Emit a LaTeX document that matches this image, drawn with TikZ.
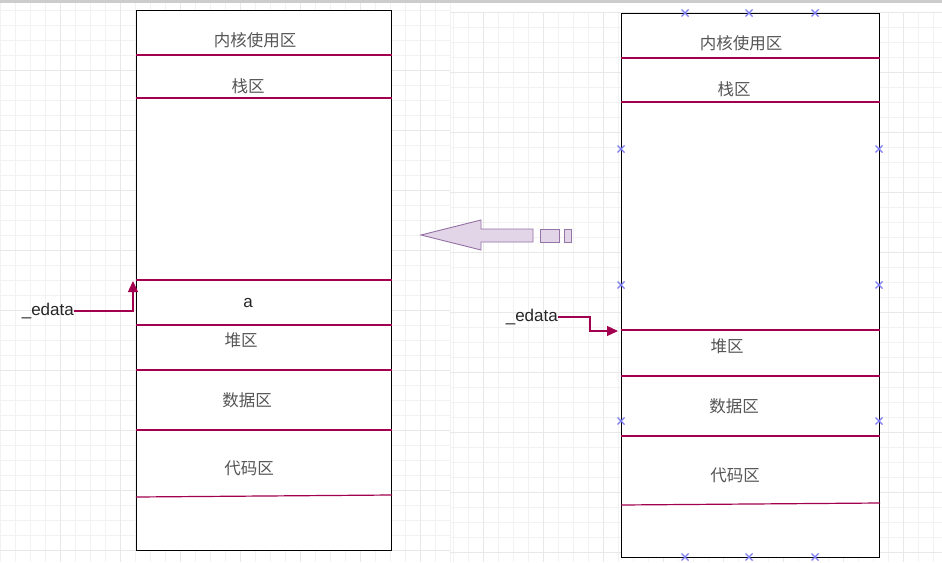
\documentclass[tikz,border=0pt]{standalone}
\usepackage{fontspec}
\setmainfont{Liberation Sans}
\newfontfamily\cjk{Noto Sans CJK SC}
\usetikzlibrary{arrows.meta}
\definecolor{divc}{HTML}{A2004F}
\definecolor{txtc}{HTML}{555555}
\definecolor{gridc}{HTML}{F2F2F2}
\definecolor{gridm}{HTML}{E8E8E8}
\definecolor{xmark}{HTML}{7B7BF5}
\definecolor{arrfill}{HTML}{E1D5E7}
\definecolor{arrdraw}{HTML}{9673A6}
\tikzset{
  membox/.style={draw=black, line width=1.1pt, fill=white, inner sep=0pt},
  divider/.style={draw=divc, line width=1.2pt},
  zlabel/.style={font=\cjk\fontsize{16.5}{18}\selectfont, text=txtc, inner sep=0pt},
  elabel/.style={font=\fontsize{17}{19}\selectfont, text=black!85, inner sep=0pt},
  econn/.style={draw=divc, line width=1.3pt, -{Triangle[length=11pt,width=10pt]}},
  xm/.style={draw=xmark, line width=1.3pt},
  bigarrow/.style={draw=arrdraw, fill=arrfill, line width=0.9pt}
}
\begin{document}
\begin{tikzpicture}[x=1pt,y=-1pt]
\useasboundingbox (0,0) rectangle (942,562);
\fill[white] (0,0) rectangle (942,562);
% grid backgrounds
\foreach \gx in {0,15,...,450} {\draw[gridc, line width=0.5pt] (\gx,0) -- (\gx,562);}
\foreach \gy in {10,25,...,562} {\draw[gridc, line width=0.5pt] (0,\gy) -- (450,\gy);}
\foreach \gx in {60,120,...,450} {\draw[gridm, line width=0.6pt] (\gx,0) -- (\gx,562);}
\foreach \gy in {70,130,...,562} {\draw[gridm, line width=0.6pt] (0,\gy) -- (450,\gy);}
\foreach \gx in {453,468,...,942} {\draw[gridc, line width=0.5pt] (\gx,12) -- (\gx,562);}
\foreach \gy in {12,27,...,562} {\draw[gridc, line width=0.5pt] (450,\gy) -- (942,\gy);}
\foreach \gx in {483,543,...,942} {\draw[gridm, line width=0.6pt] (\gx,12) -- (\gx,562);}
\foreach \gy in {12,72,...,562} {\draw[gridm, line width=0.6pt] (450,\gy) -- (942,\gy);}
\fill[black!20] (0,0) rectangle (942,3);

% left box
\node[membox, minimum width=255pt, minimum height=540pt, anchor=north west] (L) at (136,10) {};
\draw[divider] (L.west |- 0,55) -- (L.east |- 0,55);
\draw[divider] (L.west |- 0,98) -- (L.east |- 0,98);
\draw[divider] (L.west |- 0,280) -- (L.east |- 0,280);
\draw[divider] (L.west |- 0,325) -- (L.east |- 0,325);
\draw[divider] (L.west |- 0,370) -- (L.east |- 0,370);
\draw[divider] (L.west |- 0,430) -- (L.east |- 0,430);
\draw[divider] (L.west |- 0,497) -- (L.east |- 0,495);
\node[zlabel] (l1) at (255,40) {内核使用区};
\node[zlabel] (l2) at (248,86) {栈区};
\node[elabel] (la) at (248,303) {a};
\node[zlabel] (l3) at (241,340) {堆区};
\node[zlabel] (l4) at (247,400) {数据区};
\node[zlabel] (l5) at (249,468) {代码区};

% left _edata
\node[elabel, anchor=east] (ed1) at (74,311) {\_edata};
\coordinate (h1) at (133,281);
\draw[econn] (ed1.east) -- (133,311) -- (h1);

% right box
\node[membox, minimum width=258pt, minimum height=544pt, anchor=north west] (R) at (621,13) {};
\draw[divider] (R.west |- 0,58) -- (R.east |- 0,58);
\draw[divider] (R.west |- 0,102) -- (R.east |- 0,102);
\draw[divider] (R.west |- 0,330) -- (R.east |- 0,330);
\draw[divider] (R.west |- 0,376) -- (R.east |- 0,376);
\draw[divider] (R.west |- 0,436) -- (R.east |- 0,436);
\draw[divider] (R.west |- 0,505) -- (R.east |- 0,503);
\node[zlabel] (r1) at (741,43) {内核使用区};
\node[zlabel] (r2) at (734,89) {栈区};
\node[zlabel] (r3) at (727,346) {堆区};
\node[zlabel] (r4) at (734,406) {数据区};
\node[zlabel] (r5) at (735,475) {代码区};

% right _edata
\node[elabel, anchor=east] (ed2) at (558,317) {\_edata};
\coordinate (h2) at (618,331);
\draw[econn] (ed2.east) -- (590,317) -- (590,331) -- (h2);

% blue x marks
\foreach \mx/\my in {685/13,749/13,815/13,621/149,879/149,621/285,879/285,621/421,879/421,685/557,749/557,815/557} {
  \draw[xm] (\mx-3.5,\my-3.5) -- (\mx+3.5,\my+3.5) (\mx-3.5,\my+3.5) -- (\mx+3.5,\my-3.5);
}

% big arrow
\draw[bigarrow] (421,235) -- (481,220) -- (481,229) -- (533,229) -- (533,242) -- (481,242) -- (481,250) -- cycle;
\draw[bigarrow] (540,229) rectangle (559,242);
\draw[bigarrow] (564,229) rectangle (571,242);
\end{tikzpicture}
\end{document}
